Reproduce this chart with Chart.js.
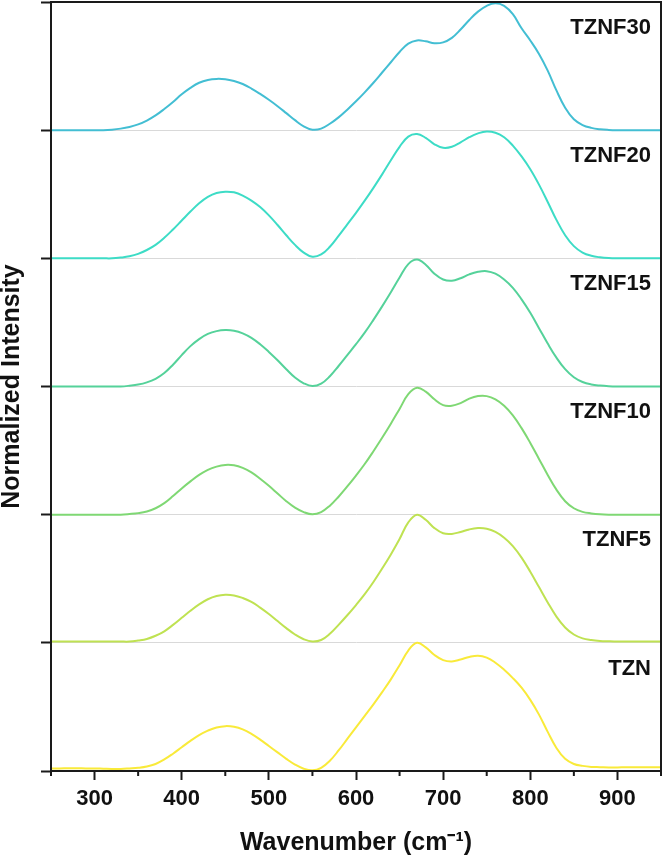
<!DOCTYPE html>
<html>
<head>
<meta charset="utf-8">
<script src="https://cdn.jsdelivr.net/npm/chart.js@4.4.1/dist/chart.umd.min.js"></script>
<style>
    html, body { margin: 0; padding: 0; background: #fff; }
    #wrap { width: 664px; height: 856px; }
</style>
</head>
<body>
<div id="wrap"><canvas id="spectra"></canvas></div>
<script>
// sample names, bottom to top
const sampleNames = ['TZN', 'TZNF5', 'TZNF10', 'TZNF15', 'TZNF20', 'TZNF30'];
const lineColors = ['#f9ea3a', '#bfe252', '#7fd874', '#55d29a', '#3ddcc6', '#43bed3'];

// labelled x ticks
const xTickValues = [300, 400, 500, 600, 700, 800, 900];

// wavenumber (cm-1)
const wavenumbers = [
    250, 260, 270, 280, 290, 300, 310, 320, 330, 340,
    350, 360, 370, 380, 390, 400, 410, 420, 430, 440,
    450, 460, 470, 480, 490, 500, 510, 520, 530, 540,
    550, 560, 570, 580, 590, 600, 610, 620, 630, 640,
    650, 660, 670, 680, 690, 700, 710, 720, 730, 740,
    750, 760, 770, 780, 790, 800, 810, 820, 830, 840,
    850, 860, 870, 880, 890, 900, 910, 920, 930, 940,
    950
];

// normalized intensity of each sample (0..1)
const tzn = [
    .02, .02, .022, .022, .02, .02, .018, .016, .016, .02,
    .025, .035, .055, .09, .135, .185, .235, .28, .315, .34,
    .35, .345, .325, .29, .245, .195, .145, .095, .05, .018,
    .005, .025, .08, .16, .25, .34, .43, .52, .615, .715,
    .825, .94, 1.0, .965, .905, .865, .855, .87, .89, .90,
    .885, .845, .79, .725, .65, .555, .44, .305, .18, .095,
    .055, .04, .032, .03, .028, .028, .03, .03, .03, .03,
    .03
];
const tznf5 = [
    .01, .01, .01, .01, .01, .01, .01, .01, .01, .01,
    .018, .03, .055, .09, .14, .195, .25, .30, .34, .365,
    .375, .37, .35, .32, .275, .225, .17, .115, .065, .028,
    .01, .022, .07, .14, .215, .295, .38, .475, .58, .69,
    .81, .94, 1.0, .96, .895, .855, .85, .865, .885, .895,
    .89, .865, .82, .755, .665, .555, .435, .315, .205, .12,
    .065, .035, .022, .015, .012, .01, .01, .01, .01, .01,
    .01
];
const tznf10 = [
    0, 0, 0, 0, 0, 0, 0, 0, 0, .005,
    .012, .025, .05, .09, .145, .205, .26, .31, .35, .375,
    .388, .385, .365, .33, .28, .225, .165, .105, .055, .02,
    .003, .02, .07, .14, .22, .305, .395, .495, .60, .71,
    .825, .94, .99, .96, .90, .855, .85, .87, .905, .925,
    .925, .90, .85, .775, .675, .56, .435, .31, .195, .105,
    .05, .022, .01, .003, 0, 0, 0, 0, 0, 0,
    0
];
const tznf15 = [
    0, 0, 0, 0, 0, 0, 0, 0, 0, .006,
    .015, .032, .06, .105, .17, .245, .315, .37, .41, .432,
    .44, .435, .415, .38, .33, .27, .205, .135, .07, .025,
    .003, .022, .08, .16, .245, .33, .42, .52, .625, .735,
    .85, .955, .99, .95, .88, .835, .825, .845, .875, .895,
    .90, .88, .835, .77, .68, .575, .455, .335, .225, .135,
    .072, .035, .016, .007, .002, 0, 0, 0, 0, 0,
    0
];
const tznf20 = [
    0, 0, 0, 0, 0, 0, 0, 0, .006, .016,
    .035, .065, .105, .16, .225, .295, .365, .43, .48, .51,
    .52, .515, .49, .45, .40, .335, .26, .18, .105, .045,
    .012, .03, .09, .175, .265, .355, .45, .55, .655, .765,
    .87, .95, .97, .94, .89, .862, .87, .905, .945, .975,
    .99, .98, .945, .88, .795, .695, .575, .44, .30, .18,
    .095, .045, .02, .008, .002, 0, 0, 0, 0, 0,
    0
];
const tznf30 = [
    0, 0, 0, 0, 0, 0, 0, .004, .012, .025,
    .045, .075, .115, .165, .22, .28, .33, .37, .392, .40,
    .397, .383, .36, .325, .283, .237, .187, .133, .078, .03,
    .004, .012, .05, .10, .16, .225, .295, .37, .45, .53,
    .61, .675, .70, .693, .678, .685, .72, .785, .86, .925,
    .97, .99, .97, .905, .795, .70, .595, .465, .31, .175,
    .085, .04, .018, .007, .002, 0, 0, 0, 0, 0,
    0
];
const intensities = [tzn, tznf5, tznf10, tznf15, tznf20, tznf30];

const FONT = '"Liberation Sans", Arial, sans-serif';

// each sample is lifted by one unit so they stack
const datasets = intensities.map((vals, i) => ({
    label: sampleNames[i],
    data: wavenumbers.map((w, k) => ({ x: w, y: i + vals[k] })),
    borderColor: lineColors[i],
    borderWidth: 2,
    pointRadius: 0,
    tension: 0.4,
    fill: false
}));

// box frame, minor x ticks and sample names
const framePlugin = {
    id: 'framePlugin',
    afterDraw(chart) {
        const ctx = chart.ctx;
        const a = chart.chartArea;
        const xs = chart.scales.x;
        const ys = chart.scales.y;
        ctx.save();
        ctx.strokeStyle = '#1a1a1a';
        ctx.lineWidth = 2;
        ctx.strokeRect(a.left, a.top, a.right - a.left, a.bottom - a.top);

        ctx.beginPath();
        for (let v = xs.min; v <= xs.max; v += 100) {
            const px = xs.getPixelForValue(v);
            ctx.moveTo(px, a.bottom);
            ctx.lineTo(px, a.bottom + 5);
        }
        ctx.stroke();

        ctx.font = 'bold 22px ' + FONT;
        ctx.fillStyle = '#111';
        ctx.textAlign = 'right';
        ctx.textBaseline = 'middle';
        sampleNames.forEach((name, i) => {
            ctx.fillText(name, a.right - 10, ys.getPixelForValue(i + 0.8));
        });
        ctx.restore();
    }
};

new Chart(document.getElementById('spectra'), {
    type: 'line',
    data: { datasets: datasets },
    options: {
        responsive: true,
        maintainAspectRatio: false,
        animation: false,
        layout: { padding: { top: 2, right: 3, left: 0, bottom: 0 } },
        plugins: {
            legend: { display: false },
            tooltip: { enabled: false }
        },
        scales: {
            x: {
                type: 'linear',
                min: 250,
                max: 950,
                afterFit: s => { s.height = 85; },
                afterBuildTicks: s => { s.ticks = xTickValues.map(v => ({ value: v })); },
                ticks: {
                    color: '#111',
                    padding: 6,
                    maxRotation: 0,
                    autoSkip: false,
                    font: { family: FONT, size: 22, weight: 'bold' }
                },
                grid: {
                    drawOnChartArea: false,
                    tickLength: 9,
                    tickWidth: 2,
                    tickColor: '#1a1a1a'
                },
                border: { color: '#1a1a1a', width: 2 },
                title: {
                    display: true,
                    text: 'Wavenumber (cm⁻¹)',
                    color: '#111',
                    padding: { top: 0, bottom: 0 },
                    font: { family: FONT, size: 25, weight: 'bold', lineHeight: 1 }
                }
            },
            y: {
                min: 0,
                max: 6,
                afterFit: s => { s.width = 51; },
                ticks: { stepSize: 1, display: false },
                grid: {
                    color: c => (c.tick && c.tick.value > 0 && c.tick.value < 6) ? '#d9d9d9' : 'rgba(0,0,0,0)',
                    lineWidth: 1,
                    tickLength: 10,
                    tickWidth: 2,
                    tickColor: '#1a1a1a'
                },
                border: { color: '#1a1a1a', width: 2 },
                title: {
                    display: true,
                    text: 'Normalized Intensity',
                    color: '#111',
                    padding: { top: 0, bottom: 0 },
                    font: { family: FONT, size: 25, weight: 'bold', lineHeight: 1 }
                }
            }
        }
    },
    plugins: [framePlugin]
});
</script>
</body>
</html>
